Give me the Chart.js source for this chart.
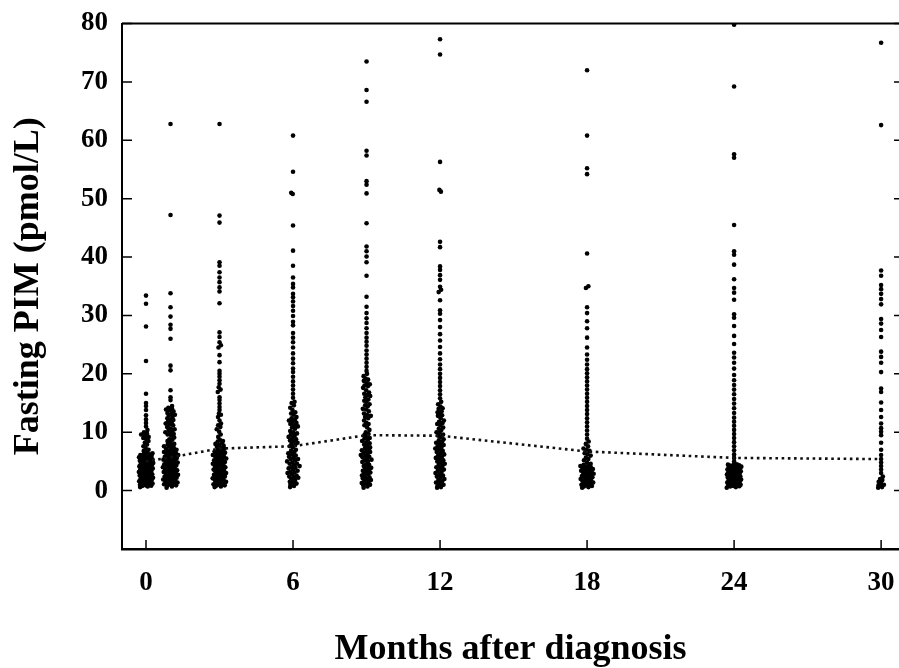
<!DOCTYPE html>
<html>
<head>
    <title>Fasting PIM</title>
    <style>
        body { margin: 0; background: #fff; }
        #chart-container { width: 899px; height: 668px; position: relative; }
    </style>
</head>
<body>
    <div id="chart-container">
        <canvas id="myChart"></canvas>
    </div>

    <script src="https://cdn.jsdelivr.net/npm/chart.js"></script>
    <script>
        // visit times (months after diagnosis)
        const MONTHS = [0, 1, 3, 6, 9, 12, 18, 24, 30];

        // fasting PIM values (pmol/L), one array per visit
        const PIM_M0 = [33.4, 32.0, 28.1, 22.2, 16.6, 15.0, 14.5, 13.8, 12.9, 12.2, 11.6, 11.0, 10.4,
            10.0, 9.8, 9.6, 9.4, 9.2, 9.0, 8.8, 8.5, 8.2, 7.9, 7.6, 7.3, 7.0, 6.8,
            6.6, 6.4, 6.3, 6.1, 6.0, 5.8, 5.7, 5.5, 5.4, 5.2, 5.1, 4.9, 4.8, 4.6, 4.5, 4.3, 4.2, 4.0, 3.9, 3.7,
            3.6, 3.4, 3.3, 3.1, 3.0, 2.8, 2.7, 2.5, 2.4, 2.2, 2.1, 1.9, 1.8, 1.6, 1.5, 1.3, 1.2, 1.0, 0.9, 0.7, 0.6,
            6.2, 5.9, 5.6, 5.3, 5.0, 4.7, 4.4, 4.1, 3.8, 3.5, 3.2, 2.9, 2.6, 2.3, 2.0, 1.7, 1.4, 1.1, 0.8,
            5.95, 5.65, 5.35, 5.05, 4.75, 4.45, 4.15, 3.85, 3.55, 3.25, 2.95, 2.65, 2.35, 2.05, 1.75, 1.45, 1.15, 0.85];
        const PIM_M1 = [62.8, 47.2, 33.8, 31.4, 29.8, 28.4, 27.7, 26.0, 21.4, 20.6, 17.2, 16.0, 15.5,
            14.5, 14.2, 13.9, 13.6, 13.3, 13.0, 12.7, 12.4, 12.1, 11.8, 11.5, 11.2, 10.9, 10.6, 10.3, 10.0,
            9.7, 9.4, 9.1, 8.8, 8.5, 8.2, 7.9, 7.6, 7.3, 7.0, 6.7, 6.4, 6.1, 5.8, 5.5, 5.2, 4.9, 4.6, 4.3, 4.0,
            3.7, 3.4, 3.1, 2.8, 2.5, 2.2, 1.9, 1.6, 1.3, 1.0, 0.7,
            8.0, 7.5, 7.1, 6.8, 6.5, 6.2, 5.9, 5.6, 5.3, 5.0, 4.7, 4.4, 4.1, 3.8, 3.5, 3.2, 2.9, 2.6, 2.3, 2.0,
            1.7, 1.4, 1.1, 0.8, 0.5,
            6.0, 5.4, 4.8, 4.2, 3.6, 3.0, 2.4, 1.8, 1.2, 13.8, 12.9, 11.6, 10.4, 9.9,
            14.0, 13.1, 12.2, 11.3, 10.5, 9.6, 8.7, 7.8, 7.2, 6.6, 6.3, 5.7, 5.1, 4.5, 3.9, 3.3, 2.7, 2.1, 1.5, 0.9];
        const PIM_M3 = [62.8, 47.1, 45.9, 39.1, 38.5, 37.4, 36.5, 35.7, 34.8, 34.1, 32.1, 27.1, 26.3, 25.4, 24.9,
            23.2, 22.0, 20.0, 18.9, 17.7, 16.9, 16.0, 14.9, 13.8, 13.2, 12.6, 11.5, 10.9, 10.1, 9.2,
            24.5, 20.5, 19.5, 18.3, 17.3, 15.5, 14.3, 13.0, 12.0, 11.2, 10.5, 9.6,
            8.7, 8.4, 8.1, 7.8, 7.5, 7.2, 6.9, 6.6, 6.3, 6.0, 5.7, 5.4, 5.1, 4.8, 4.5, 4.2, 3.9, 3.6, 3.3, 3.0,
            2.7, 2.4, 2.1, 1.8, 1.5, 1.2, 0.9, 0.6,
            8.0, 7.3, 6.7, 6.1, 5.5, 4.9, 4.3, 3.7, 3.1, 2.5, 1.9, 1.3, 0.8,
            7.0, 6.4, 5.8, 5.2, 4.6, 4.0, 3.4, 2.8, 2.2, 1.6, 1.0,
            8.5, 7.7, 6.5, 5.9, 5.3, 4.7, 4.1, 3.5, 2.9, 2.3, 1.7, 1.1, 0.7];
        const PIM_M6 = [60.8, 54.6, 51.0, 50.8, 45.4, 41.1, 38.5, 36.5, 35.4, 34.8, 33.7, 33.1, 32.4, 31.6, 30.8,
            29.9, 28.9, 28.3, 27.0, 26.2, 25.4, 24.5, 23.5, 22.6, 21.8, 20.9, 20.3, 19.5, 18.7, 18.0, 17.3, 16.6,
            15.9, 15.2,
            15.0, 14.6, 14.2, 13.8, 13.4, 13.0, 12.6, 12.2, 11.8, 11.4, 11.0, 10.6, 10.2, 9.8, 9.4, 9.0, 8.6, 8.2,
            7.8, 7.4, 7.0, 6.6, 6.2, 5.8, 5.4, 5.0, 4.6, 4.2, 3.8, 3.4, 3.0, 2.6, 2.2, 1.8, 1.4, 1.0, 0.6,
            13.2, 12.4, 11.6, 10.8, 10.0, 9.2, 8.4, 7.6, 6.8, 6.0, 5.2, 4.4, 3.6, 2.8, 2.0, 1.2,
            12.0, 11.2, 5.6, 4.8, 4.0, 3.2, 2.4,
            9.6, 8.8, 8.0, 6.4, 5.4, 4.6, 3.9, 3.1, 2.3, 1.5, 0.8];
        const PIM_M9 = [73.5, 68.6, 66.6, 58.2, 57.4, 53.0, 52.4, 50.9, 45.8, 41.8, 41.0, 40.1, 39.1, 36.8, 33.2,
            31.5, 30.4, 29.5, 28.7, 27.8, 27.0, 26.2, 25.5, 24.8, 24.0, 23.3, 22.6, 21.9, 21.2, 20.5,
            20.0, 19.6, 19.2, 18.8, 18.4, 18.0, 17.6, 17.2, 16.8, 16.4, 16.0, 15.6, 15.2, 14.8, 14.4, 14.0, 13.6,
            13.2, 12.8, 12.4, 12.0, 11.6, 11.2, 10.8, 10.4, 10.0,
            19.0, 17.9, 16.6, 15.4, 13.9, 12.6, 11.4,
            9.7, 9.3, 8.9, 8.5, 8.1, 7.7, 7.3, 6.9, 6.5, 6.1, 5.7, 5.3, 4.9, 4.5, 4.1, 3.7, 3.3, 2.9, 2.5, 2.1,
            1.7, 1.3, 0.9, 0.5,
            9.0, 8.2, 7.4, 6.6, 5.8, 5.0, 4.2, 3.4, 2.6, 1.8, 1.0, 6.3, 5.5, 3.9, 3.1, 2.3, 1.5, 0.7,
            9.5, 8.7, 7.9, 7.1, 6.8, 6.0, 5.2, 4.4, 3.6, 2.8, 2.0, 1.2, 18.2, 16.2, 14.6, 13.0];
        const PIM_M12 = [77.3, 74.7, 56.3, 51.5, 51.2, 42.6, 41.7, 38.4, 37.8, 36.9, 36.1, 34.9, 34.4, 34.0, 32.6,
            30.9, 30.3, 29.2, 28.0, 26.8, 25.7, 24.6, 23.5, 22.5, 21.6, 20.8, 20.0, 19.3, 18.6, 17.9, 17.2, 16.5,
            15.8,
            15.2, 14.8, 14.4, 14.0, 13.6, 13.2, 12.8, 12.4, 12.0, 11.6, 11.2, 10.8, 10.4, 10.0, 9.6, 9.2, 8.8,
            8.4, 8.0, 7.6, 7.2, 6.8, 6.4, 6.0, 5.6, 5.2, 4.8, 4.4, 4.0, 3.6, 3.2, 2.8, 2.4, 2.0, 1.6, 1.2, 0.8,
            14.1, 12.9, 11.4, 9.9, 8.6, 7.4, 6.2, 5.0, 3.8, 2.6, 1.4, 0.5, 7.0, 5.4, 4.2, 3.0, 1.8,
            13.4, 11.8, 10.6, 9.4, 8.2, 7.8, 6.6, 5.8, 4.6, 3.4, 2.2, 1.0, 0.6];
        const PIM_M18 = [72.0, 60.8, 55.2, 54.2, 40.6, 35.0, 34.7, 31.4, 30.4, 29.0, 27.8, 26.2, 24.5, 23.3,
            22.4, 21.6, 20.8, 20.1, 19.4, 18.7, 18.0, 17.3, 16.6, 15.9, 15.2, 14.5, 13.8, 13.1, 12.4, 11.7,
            11.0, 10.3, 9.6, 8.9,
            8.4, 8.0, 7.6, 7.2, 6.8, 6.4, 6.0, 5.6, 5.2, 4.8, 4.4, 4.0, 3.6, 3.2, 2.8, 2.4, 2.0, 1.6, 1.2, 0.8,
            4.6, 4.2, 3.8, 3.4, 3.0, 2.6, 2.2, 1.8, 1.4, 1.0, 0.6,
            7.0, 6.2, 5.4, 3.9, 3.1, 2.3, 1.5, 0.7,
            4.3, 3.7, 3.3, 2.9, 2.5, 2.1, 1.7, 1.3, 0.9, 0.5, 4.1, 3.5];
        const PIM_M24 = [79.8, 69.2, 57.6, 57.0, 45.5, 41.0, 40.4, 38.7, 36.2, 34.7, 33.9, 32.7, 30.2, 29.6,
            28.2, 26.5, 25.1, 23.6, 22.8, 21.9, 20.9, 19.8, 18.9, 18.1, 17.3, 16.5, 15.7, 14.9, 14.1, 13.3,
            12.5, 11.8, 11.1, 10.4, 9.7, 9.0, 8.3, 7.6, 6.9, 6.2, 5.6, 5.0,
            4.5, 4.3, 4.1, 3.9, 3.7, 3.5, 3.3, 3.1, 2.9, 2.7, 2.5, 2.3, 2.1, 1.9, 1.7, 1.5, 1.3, 1.1, 0.9, 0.7, 0.5,
            4.4, 4.0, 3.6, 3.2, 2.8, 2.4, 2.0, 1.6, 1.2, 0.8,
            4.2, 3.8, 3.4, 3.0, 2.6, 2.2, 1.8, 1.4, 1.0, 0.6,
            4.45, 3.95, 3.45, 2.95, 2.45, 1.95, 1.45, 0.95,
            4.35, 3.75, 3.25, 2.75, 2.25, 1.75, 1.25, 0.75, 4.05, 3.35, 2.65, 1.55, 0.85];
        const PIM_M30 = [76.7, 62.6, 37.7, 36.8, 35.2, 34.5, 33.7, 32.8, 31.9, 29.4, 28.6, 27.5, 26.3, 23.8,
            22.9, 21.9, 20.3, 17.5, 16.9, 15.1, 13.8, 12.6, 11.5, 10.7, 10.1, 9.5, 8.2, 7.0, 6.1, 5.4, 4.8,
            4.2, 3.6, 3.0, 2.4, 1.8, 1.3, 0.9, 0.5, 2.0, 1.0, 0.6, 1.5];

        const PIM_BY_MONTH = [PIM_M0, PIM_M1, PIM_M3, PIM_M6, PIM_M9, PIM_M12, PIM_M18, PIM_M24, PIM_M30];

        // dotted line through the visit medians
        const MEDIAN_PIM = [5.0, 5.7, 7.2, 7.6, 9.5, 9.4, 6.7, 5.6, 5.4];

        const X_TICKS = [0, 6, 12, 18, 24, 30];
        const Y_TICKS = [0, 10, 20, 30, 40, 50, 60, 70, 80];

        // side spread (months) of the dense part of each column, as in the jittered original
        const MAX_SPREAD = [0.3, 0.32, 0.3, 0.3, 0.27, 0.28, 0.28, 0.3, 0.2];

        // lonely values stay centered; dense ones are spread by a golden-ratio sequence on their rank
        function buildPoints(month, values, maxSpread) {
            const sorted = values.slice().sort((a, b) => a - b);
            return sorted.map((v, rank) => {
                let n = 0;
                sorted.forEach(w => { if (Math.abs(w - v) <= 0.45) n++; });
                const spread = n <= 1 ? 0 : Math.min(maxSpread, 0.04 * n);
                const u = (rank * 0.6180339887) % 1;
                return { x: month + spread * (2 * u - 1), y: v };
            });
        }

        const scatterPoints = [];
        MONTHS.forEach((m, k) => {
            scatterPoints.push(...buildPoints(m, PIM_BY_MONTH[k], MAX_SPREAD[k]));
        });

        // inward tick marks + top frame line, placed through the chart scales
        const frameTicks = {
            id: 'frameTicks',
            afterDatasetsDraw(chart) {
                const { ctx, chartArea, scales } = chart;
                ctx.save();
                ctx.strokeStyle = '#000';
                ctx.lineWidth = 2;
                ctx.beginPath();
                ctx.moveTo(chartArea.left, chartArea.top);
                ctx.lineTo(chartArea.right, chartArea.top);
                ctx.stroke();

                ctx.lineWidth = 1.5;
                Y_TICKS.forEach(v => {
                    const y = scales.y.getPixelForValue(v);
                    ctx.beginPath();
                    ctx.moveTo(chartArea.left, y);
                    ctx.lineTo(chartArea.left + 10, y);
                    ctx.moveTo(chartArea.right - 5, y);
                    ctx.lineTo(chartArea.right, y);
                    ctx.stroke();
                });
                X_TICKS.forEach(v => {
                    const x = scales.x.getPixelForValue(v);
                    ctx.beginPath();
                    ctx.moveTo(x, chartArea.bottom);
                    ctx.lineTo(x, chartArea.bottom - 9);
                    ctx.stroke();
                });
                ctx.restore();
            }
        };

        const serif = "'Liberation Serif', 'Times New Roman', serif";

        const ctx = document.getElementById('myChart').getContext('2d');
        const myChart = new Chart(ctx, {
            data: {
                datasets: [
                    {
                        type: 'line',
                        label: 'Median',
                        data: MONTHS.map((m, i) => ({ x: m, y: MEDIAN_PIM[i] })),
                        borderColor: '#111',
                        borderWidth: 2.6,
                        borderDash: [2.6, 3.6],
                        pointRadius: 0,
                        fill: false,
                        tension: 0
                    },
                    {
                        type: 'scatter',
                        label: 'Fasting PIM',
                        data: scatterPoints,
                        backgroundColor: '#000',
                        borderWidth: 0,
                        pointRadius: 2.3
                    }
                ]
            },
            options: {
                responsive: true,
                maintainAspectRatio: false,
                animation: false,
                layout: { autoPadding: false, padding: { top: 23.5, right: 0, left: 0, bottom: 0 } },
                plugins: { legend: { display: false }, tooltip: { enabled: false } },
                scales: {
                    x: {
                        type: 'linear',
                        min: -0.98,
                        max: 30.73,
                        afterBuildTicks: s => { s.ticks = X_TICKS.map(v => ({ value: v })); },
                        afterFit: s => { s.height = 119; s.paddingRight = 0; s.paddingLeft = 0; },
                        grid: { display: false, drawTicks: false },
                        border: { display: true, color: '#000', width: 2.5 },
                        ticks: {
                            color: '#000',
                            padding: 18,
                            font: { family: serif, size: 27, weight: 'bold' }
                        },
                        title: {
                            display: true,
                            text: 'Months after diagnosis',
                            color: '#000',
                            padding: 0,
                            font: { family: serif, size: 36, weight: 'bold', lineHeight: 1.0 }
                        }
                    },
                    y: {
                        type: 'linear',
                        min: -10,
                        max: 80,
                        afterBuildTicks: s => { s.ticks = Y_TICKS.map(v => ({ value: v })); },
                        afterFit: s => { s.width = 122; s.paddingTop = 0; s.paddingBottom = 0; },
                        grid: { display: false, drawTicks: false },
                        border: { display: true, color: '#000', width: 2 },
                        ticks: {
                            color: '#000',
                            padding: 14,
                            font: { family: serif, size: 27, weight: 'bold' }
                        },
                        title: {
                            display: true,
                            text: 'Fasting PIM (pmol/L)',
                            color: '#000',
                            padding: { top: 7, bottom: 0 },
                            font: { family: serif, size: 36, weight: 'bold', lineHeight: 1.2 }
                        }
                    }
                }
            },
            plugins: [frameTicks]
        });
    </script>
</body>
</html>
